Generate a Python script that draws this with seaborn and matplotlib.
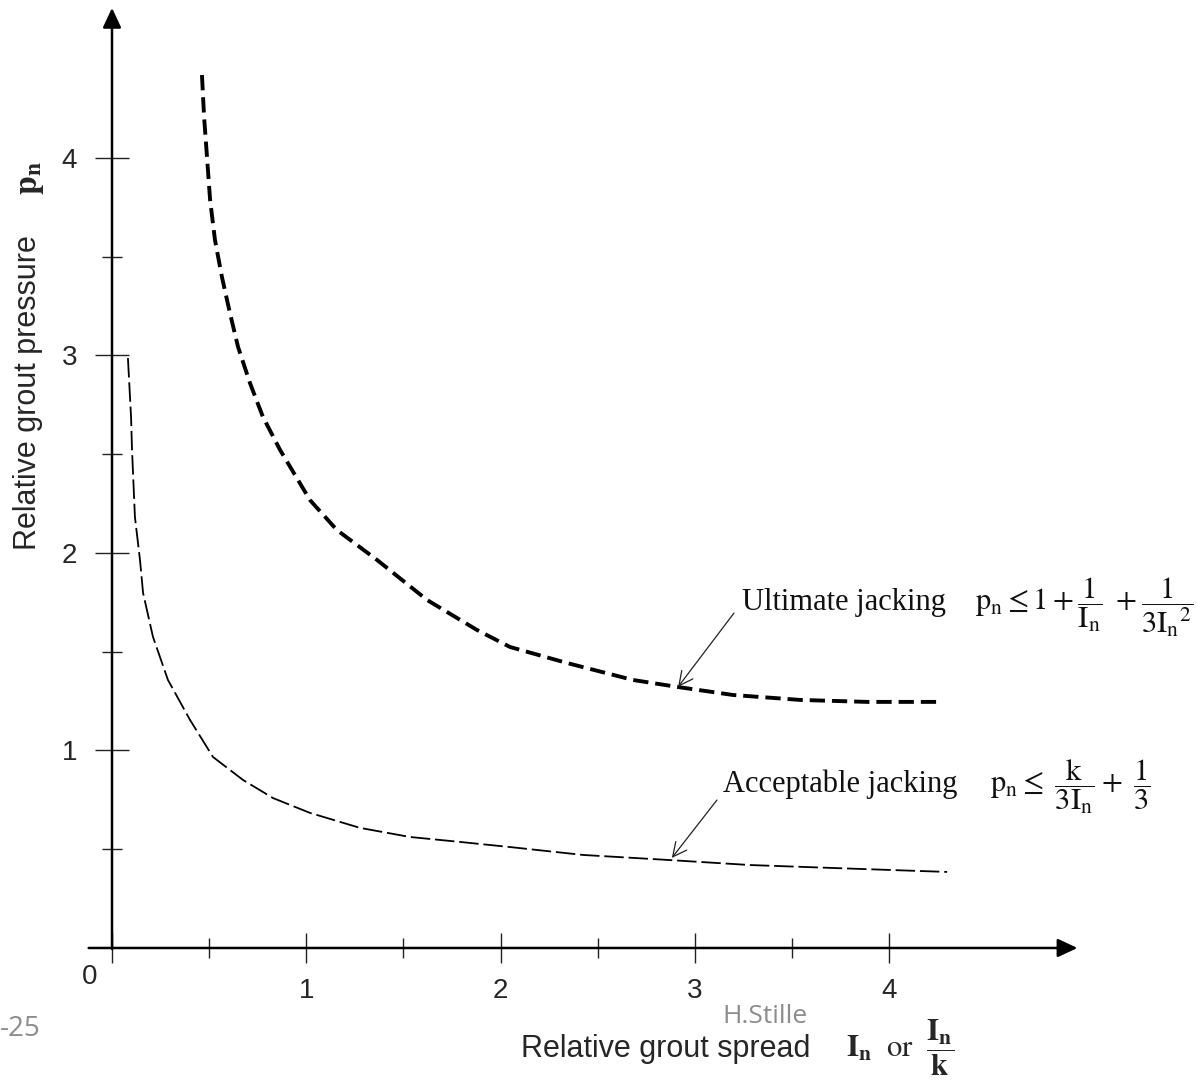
import numpy as np
import matplotlib
matplotlib.use('Agg')
from matplotlib import pyplot as plt
import seaborn as sns

# values
ult_x = [0.463, 0.474, 0.489, 0.505, 0.530, 0.566, 0.607, 0.649, 0.710, 0.777, 0.865,
         1.019, 1.158, 1.364, 1.622, 1.879, 2.049, 2.342, 2.682, 2.909, 3.197, 3.542,
         3.887, 4.247]
ult_y = [4.420, 4.208, 4.005, 3.787, 3.585, 3.397, 3.215, 3.043, 2.861, 2.689, 2.522,
         2.268, 2.116, 1.965, 1.762, 1.610, 1.524, 1.443, 1.357, 1.322, 1.281, 1.256,
         1.246, 1.246]

acc_x = [0.082, 0.098, 0.103, 0.118, 0.144, 0.160, 0.211, 0.288, 0.402, 0.520, 0.674,
         0.829, 1.019, 1.277, 1.534, 1.791, 2.049, 2.425, 2.857, 3.284, 3.712, 4.299]
acc_y = [2.987, 2.689, 2.522, 2.182, 1.965, 1.797, 1.575, 1.357, 1.154, 0.967, 0.851,
         0.759, 0.684, 0.608, 0.562, 0.537, 0.511, 0.471, 0.446, 0.420, 0.405, 0.385]

x_major = [0, 1, 2, 3, 4]
x_major_labels = ['', '1', '2', '3', '4']
x_minor = [0.5, 1.5, 2.5, 3.5]
y_major = [1, 2, 3, 4]
y_minor = [0.5, 1.5, 2.5, 3.5]

sns.set_theme(style='white')
plt.rcParams['font.family'] = ['Liberation Sans', 'DejaVu Sans']
plt.rcParams['mathtext.fontset'] = 'stix'
plt.rcParams['lines.scale_dashes'] = False

W, H = 1201, 1088
fig = plt.figure(figsize=(W / 100, H / 100), dpi=100)
ax = fig.add_axes([0, 0, 1, 1])
ax.set_facecolor('white')
ax.set_xlim(-0.5766, 5.606)
ax.set_ylim(-0.709, 4.800)


def fx(px):
    return px / W


def fy(py):
    return 1 - py / H


# curves
sns.lineplot(x=ult_x, y=ult_y, ax=ax, color='black', lw=2.8, errorbar=None, sort=False)
ax.lines[-1].set_dashes((11, 5))
sns.lineplot(x=acc_x, y=acc_y, ax=ax, color='black', lw=1.3, errorbar=None, sort=False)
ax.lines[-1].set_dashes((14, 3.5))

# axes with arrows
for s in ax.spines.values():
    s.set_visible(False)
ax.spines['left'].set_position(('data', 0))
ax.spines['bottom'].set_position(('data', 0))
ax.annotate('', xy=(4.97, 0), xytext=(-0.12, 0),
            arrowprops=dict(arrowstyle='-|>,head_length=0.6,head_width=0.28', lw=1.8,
                            color='black', shrinkA=0, shrinkB=0, mutation_scale=20))
ax.annotate('', xy=(0, 4.76), xytext=(0, -0.005),
            arrowprops=dict(arrowstyle='-|>,head_length=0.6,head_width=0.28', lw=1.8,
                            color='black', shrinkA=0, shrinkB=0, mutation_scale=20))

ax.set_xticks(x_major)
ax.set_xticklabels(x_major_labels)
ax.set_xticks(x_minor, minor=True)
ax.set_yticks(y_major)
ax.set_yticks(y_minor, minor=True)
ax.tick_params(axis='x', which='major', direction='inout', length=21, width=1, color='#222222',
               labelsize=20, pad=11, bottom=True)
ax.tick_params(axis='x', which='minor', direction='inout', length=14, width=1, color='#222222',
               bottom=True)
ax.tick_params(axis='y', which='major', direction='inout', length=24, width=1, color='#222222',
               labelsize=20, pad=13, left=True)
ax.tick_params(axis='y', which='minor', direction='inout', length=15, width=1, color='#222222',
               left=True)
ax.grid(False)
ax.text(-0.113, -0.147, '0', ha='center', va='center', fontsize=20)

# annotations
ax.annotate('', xy=(2.914, 1.322), xytext=(3.202, 1.696),
            arrowprops=dict(arrowstyle='->,head_length=0.5,head_width=0.25', lw=0.9,
                            color='#222222', shrinkA=0, shrinkB=0, mutation_scale=20))
ax.annotate('', xy=(2.882, 0.456), xytext=(3.114, 0.749),
            arrowprops=dict(arrowstyle='->,head_length=0.5,head_width=0.25', lw=0.9,
                            color='#222222', shrinkA=0, shrinkB=0, mutation_scale=20))
ax.text(3.243, 1.711, 'Ultimate jacking', family='Liberation Serif', fontsize=22,
        ha='left', va='baseline', color='#111111')
ax.text(4.443, 1.711, r'$\mathrm{p_n} \leq 1 + \dfrac{1}{\mathrm{I_n}}\ + \dfrac{1}{3\mathrm{I_n}^2}$',
        fontsize=22, ha='left', va='baseline', color='#111111')
ax.text(3.145, 0.790, 'Acceptable jacking', family='Liberation Serif', fontsize=22,
        ha='left', va='baseline', color='#111111')
ax.text(4.520, 0.790, r'$\mathrm{p_n} \leq\ \dfrac{\mathrm{k}}{3\mathrm{I_n}} + \ \dfrac{1}{3}$',
        fontsize=22, ha='left', va='baseline', color='#111111')

# axis titles
fig.text(fx(521), fy(1057), 'Relative grout spread', fontsize=22, ha='left', va='baseline')
fig.text(fx(846), fy(1057), r'$\mathbf{I_n}\ \ \mathrm{or}\ \ \dfrac{\mathbf{I_n}}{\mathbf{k}}$',
         fontsize=22, ha='left', va='baseline')
fig.text(fx(28), fy(550), 'Relative grout pressure', fontsize=22, rotation=90,
         ha='center', va='bottom')
fig.text(fx(30), fy(178), r'$\mathbf{p_n}$', fontsize=24, rotation=90,
         ha='center', va='center')

# slide footer remnants
fig.text(fx(0), fy(1036), '-25', fontsize=20, color='#8c8c8c', family='Open Sans',
         ha='left', va='baseline')
fig.text(fx(722), fy(1023), 'H.Stille', fontsize=19, color='#8c8c8c', family='Open Sans',
         ha='left', va='baseline')

fig.savefig('out.png', dpi=100, facecolor='white')
